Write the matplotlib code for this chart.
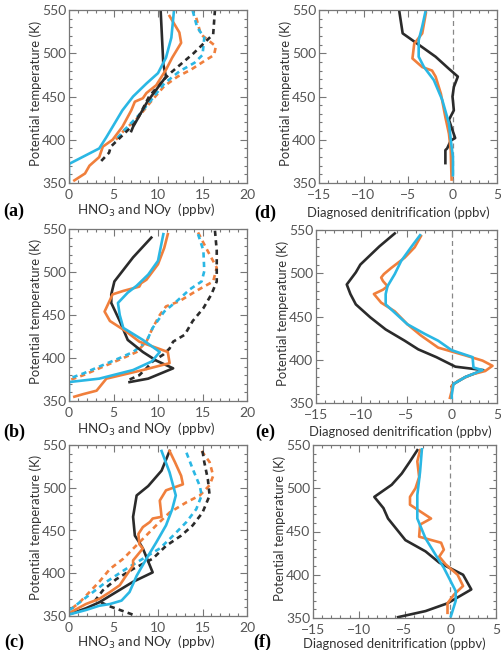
import matplotlib
matplotlib.use("Agg")
import matplotlib.pyplot as plt
from matplotlib.ticker import MultipleLocator

plt.rcParams['font.family'] = ['Lato', 'DejaVu Sans']

BLACK = '#2b2b2b'
ORANGE = '#f07f3c'
CYAN = '#2ab7e4'

# ---- panel (a): HNO3 (solid) and NOy (dashed) ----
a_blk_x = [10.3, 10.6, 10.9, 8.8, 7.2, 7.0]
a_blk_y = [549, 487, 473, 444, 415, 410]
a_org_x = [11.3, 12.4, 12.6, 11.6, 10.9, 9.8, 8.7, 8.3, 7.4, 7.0, 6.0, 4.9, 3.8, 3.4, 2.3, 1.8, 1.2, 0.6]
a_org_y = [543, 524, 512, 495, 481, 463, 454, 448, 444, 434, 415, 400, 392, 380, 370, 361, 357, 353]
a_cyn_x = [11.8, 11.5, 10.9, 10.0, 8.7, 7.2, 6.0, 4.9, 4.2, 3.4, 0.0, 0.0]
a_cyn_y = [550, 518, 495, 477, 465, 450, 434, 415, 403, 390, 372, 350]
a_blkd_x = [16.4, 16.2, 14.0, 11.5, 10.5, 9.0, 8.0, 7.3, 6.0, 4.7, 4.5, 3.3]
a_blkd_y = [550, 522, 500, 478, 468, 450, 430, 418, 405, 392, 385, 372]
a_orgd_x = [14.3, 14.8, 16.5, 16.3, 15.2, 13.7, 12.2, 10.7, 9.2, 7.7, 6.2, 5.1]
a_orgd_y = [541, 522, 508, 498, 491, 481, 473, 462, 444, 425, 411, 398]
a_cynd_x = [13.9, 14.4, 15.2, 15.0, 14.1, 12.4, 10.7, 9.4, 7.9, 6.2, 5.1]
a_cynd_y = [549, 530, 518, 498, 489, 479, 465, 448, 429, 411, 398]

# ---- panel (b) ----
b_blk_x = [9.25, 7.2, 5.1, 4.75, 4.75, 5.7, 6.6, 8.3, 9.8, 11.7, 8.9, 6.8]
b_blk_y = [540, 517, 489, 474, 464, 443, 421, 407, 397, 388, 376, 372]
b_org_x = [11.1, 10.7, 10.0, 8.7, 8.1, 7.9, 6.1, 4.9, 4.0, 4.6, 6.4, 7.9, 11.1, 11.3, 8.3, 4.2, 3.1, 1.6, 0.6]
b_org_y = [544, 528, 509, 491, 487, 483, 478, 474, 454, 443, 431, 419, 407, 394, 386, 376, 362, 358, 355]
b_cyn_x = [10.6, 10.0, 8.9, 7.6, 6.6, 5.5, 5.7, 6.1, 8.3, 10.2, 9.3, 7.2, 3.4, 0.0, 0.0]
b_cyn_y = [544, 513, 497, 484, 476, 464, 450, 435, 421, 407, 396, 386, 376, 372, 350]
b_blkd_x = [16.4, 16.6, 16.6, 16.0, 15.1, 13.9, 13.0, 11.7, 11.3, 10.6, 9.4, 8.7, 7.9, 6.6]
b_blkd_y = [548, 525, 489, 474, 458, 443, 427, 419, 411, 404, 396, 388, 380, 374]
b_orgd_x = [14.5, 15.4, 16.6, 16.2, 14.3, 12.4, 10.9, 10.2, 9.4, 8.7, 7.6, 6.1, 3.4, 1.6, 0.0]
b_orgd_y = [546, 528, 505, 489, 478, 466, 460, 450, 435, 419, 407, 400, 388, 380, 374]
b_cynd_x = [14.5, 15.1, 15.2, 14.9, 13.6, 12.1, 10.7, 9.4, 8.7, 7.2, 5.7, 3.4, 1.6, 0.0]
b_cynd_y = [544, 525, 501, 489, 480, 466, 454, 435, 419, 407, 400, 390, 382, 376]

# ---- panel (c) ----
c_blk_x = [11.3, 10.4, 8.9, 7.6, 7.2, 7.4, 7.9, 8.3, 9.4, 7.2, 5.3, 3.4, 1.9, 0.3]
c_blk_y = [543, 520, 502, 491, 466, 444, 436, 429, 401, 390, 378, 366, 359, 353]
c_org_x = [11.3, 11.9, 12.6, 12.8, 10.9, 10.2, 10.4, 9.4, 9.1, 8.3, 7.8, 7.9, 8.3, 7.2, 7.2, 6.4, 5.7, 4.6, 3.4, 1.9, 0.3]
c_org_y = [543, 530, 514, 504, 497, 485, 466, 464, 460, 454, 446, 434, 429, 415, 409, 397, 386, 378, 370, 364, 355]
c_cyn_x = [10.4, 11.3, 12.0, 11.6, 10.9, 9.8, 8.7, 7.6, 6.8, 5.9, 4.6, 3.4, 1.9, 0.1]
c_cyn_y = [543, 518, 491, 475, 456, 436, 417, 397, 378, 368, 364, 362, 357, 352]
c_blkd_x = [15.0, 15.2, 15.6, 15.8, 15.0, 13.9, 12.6, 10.9, 9.4, 7.2, 5.3, 3.8, 3.0, 4.4, 7.6]
c_blkd_y = [543, 530, 510, 491, 471, 456, 444, 432, 417, 405, 393, 380, 369, 362, 350]
c_orgd_x = [14.9, 15.8, 16.2, 15.8, 14.7, 13.2, 11.3, 9.8, 7.9, 6.1, 4.6, 3.4, 2.3, 1.2, 0.1]
c_orgd_y = [543, 530, 514, 503, 491, 483, 471, 456, 436, 417, 405, 390, 378, 366, 357]
c_cynd_x = [13.2, 13.9, 14.7, 14.9, 14.3, 13.2, 11.7, 10.2, 8.3, 6.4, 4.2, 2.7, 1.2, 0.1]
c_cynd_y = [541, 522, 502, 491, 475, 460, 444, 429, 417, 405, 390, 378, 366, 357]

# ---- panel (d): diagnosed denitrification ----
d_blk_x = [-6.0, -5.6, -3.4, -1.9, -0.4, 0.6, 0.15, 0.0, 0.15, -0.4, 0.0, 0.3, -0.2, -0.6, -0.8, -0.8]
d_blk_y = [550, 523, 507, 496, 482, 473, 461, 450, 434, 423, 411, 402, 399, 390, 388, 373]
d_org_x = [-3.0, -3.4, -4.3, -4.5, -3.4, -2.3, -1.9, -1.3, -0.8, -0.4, -0.2, -0.15, -0.1]
d_org_y = [546, 523, 511, 494, 484, 480, 473, 453, 426, 407, 388, 369, 354]
d_cyn_x = [-3.0, -3.4, -3.8, -3.8, -3.2, -2.1, -1.15, -0.4, -0.15, 0.05, 0.05]
d_cyn_y = [550, 531, 515, 496, 484, 469, 446, 419, 396, 380, 359]

# ---- panel (e) ----
e_blk_x = [-6.3, -8.0, -9.1, -10.1, -10.6, -11.6, -11.2, -10.6, -9.0, -7.3, -5.2, -3.7, -1.7, 0.4, 3.5, 1.5, 0.2, 0.0]
e_blk_y = [546, 531, 520, 510, 501, 487, 476, 464, 449, 435, 422, 412, 403, 392, 388, 380, 372, 369]
e_org_x = [-3.4, -4.1, -5.2, -6.7, -7.5, -7.8, -7.6, -7.1, -7.6, -8.6, -7.8, -6.3, -4.9, -3.4, -1.5, 1.5, 3.4, 4.5, 3.7, 2.2, 0.75, 0.0, 0.0, -0.2]
e_org_y = [543, 530, 518, 506, 499, 495, 491, 485, 481, 476, 466, 456, 441, 428, 414, 405, 399, 393, 387, 383, 376, 370, 364, 356]
e_cyn_x = [-3.5, -4.5, -5.6, -6.3, -7.1, -7.3, -7.3, -4.9, -3.0, -1.5, 0.0, 2.3, 2.4, 3.4, 1.5, 0.2, 0.0, 0.0]
e_cyn_y = [544, 530, 514, 499, 485, 476, 464, 441, 430, 422, 411, 403, 391, 388, 380, 372, 360, 356]

# ---- panel (f) ----
f_blk_x = [-3.6, -4.4, -5.3, -6.4, -8.3, -7.3, -6.8, -4.9, -2.7, -1.2, 1.4, 2.3, -0.3, -2.7, -5.7]
f_blk_y = [544, 531, 517, 504, 490, 477, 465, 440, 427, 414, 400, 383, 367, 358, 351]
f_org_x = [-3.3, -3.6, -3.4, -3.8, -4.4, -4.4, -2.1, -3.3, -3.4, -1.0, -0.7, -1.2, -0.5, 0.8, 1.4, 0.4, -0.3, -0.3]
f_org_y = [544, 531, 513, 500, 490, 481, 465, 458, 444, 437, 429, 421, 412, 400, 387, 377, 367, 356]
f_cyn_x = [-3.1, -3.3, -3.6, -3.6, -2.7, -1.6, -0.7, 0.07, 0.6, 0.6, 0.07]
f_cyn_y = [545, 519, 492, 465, 442, 423, 408, 392, 381, 370, 352]

left_panels = [
    ((a_blk_x, a_blk_y), (a_org_x, a_org_y), (a_cyn_x, a_cyn_y),
     (a_blkd_x, a_blkd_y), (a_orgd_x, a_orgd_y), (a_cynd_x, a_cynd_y)),
    ((b_blk_x, b_blk_y), (b_org_x, b_org_y), (b_cyn_x, b_cyn_y),
     (b_blkd_x, b_blkd_y), (b_orgd_x, b_orgd_y), (b_cynd_x, b_cynd_y)),
    ((c_blk_x, c_blk_y), (c_org_x, c_org_y), (c_cyn_x, c_cyn_y),
     (c_blkd_x, c_blkd_y), (c_orgd_x, c_orgd_y), (c_cynd_x, c_cynd_y)),
]
right_panels = [
    ((d_blk_x, d_blk_y), (d_org_x, d_org_y), (d_cyn_x, d_cyn_y)),
    ((e_blk_x, e_blk_y), (e_org_x, e_org_y), (e_cyn_x, e_cyn_y)),
    ((f_blk_x, f_blk_y), (f_org_x, f_org_y), (f_cyn_x, f_cyn_y)),
]

W, H = 501, 650
left_boxes = [(69, 10, 247, 183), (69, 229, 247, 401), (69, 445, 247, 616)]
right_boxes = [(319, 10, 497, 183), (316, 230, 497, 403), (313, 445, 496, 618)]
letters_left = ['(a)', '(b)', '(c)']
letters_right = ['(d)', '(e)', '(f)']
letter_y_left = [211, 432, 642]
letter_y_right = [213, 432, 642]
letter_x_right = [265, 265, 262]
xlab_y_left = [210, 429, 642]
xlab_y_right = [213, 432, 644]
xlab_x_left = 146
xlab_x_right = [398, 400, 394]


def box(l, t, r, b):
    return [l / W, 1 - b / H, (r - l) / W, (b - t) / H]


def style(ax):
    for s in ax.spines.values():
        s.set_color('#777777')
        s.set_linewidth(0.9)
    ax.tick_params(which='both', direction='in', top=True, right=True,
                   colors='#777777', labelcolor='#555555', labelsize=10, width=0.8)
    ax.tick_params(which='major', length=5, pad=2.5)
    ax.tick_params(which='minor', length=2.5)
    ax.tick_params(axis='x', which='major', pad=4)
    ax.tick_params(axis='y', which='major', pad=2)
    ax.set_ylim(350, 550)
    ax.yaxis.set_major_locator(MultipleLocator(50))
    ax.yaxis.set_minor_locator(MultipleLocator(10))
    ax.xaxis.set_minor_locator(MultipleLocator(1))
    ax.set_ylabel('Potential temperature (K)', fontsize=9.4, color='#333333')
    ax.yaxis.set_label_coords(-0.15, 0.52)


fig = plt.figure(figsize=(5.01, 6.5), dpi=100)
lw = 1.9

for i, lines in enumerate(left_panels):
    ax = fig.add_axes(box(*left_boxes[i]))
    style(ax)
    ax.set_xlim(0, 20)
    ax.xaxis.set_major_locator(MultipleLocator(5))
    (bx, by), (ox, oy), (cx, cy), (bdx, bdy), (odx, ody), (cdx, cdy) = lines
    ax.plot(odx, ody, color=ORANGE, lw=lw, ls=(0, (2, 1.6)))
    ax.plot(cdx, cdy, color=CYAN, lw=lw, ls=(0, (2, 1.6)))
    ax.plot(bdx, bdy, color=BLACK, lw=lw, ls=(0, (2, 1.6)))
    ax.plot(bx, by, color=BLACK, lw=lw)
    ax.plot(ox, oy, color=ORANGE, lw=lw)
    ax.plot(cx, cy, color=CYAN, lw=lw)
    fig.text(xlab_x_left / W, 1 - xlab_y_left[i] / H, 'HNO$_3$ and NOy  (ppbv)',
             fontsize=9.6, color='#333333', ha='center', va='center')
    fig.text(14 / W, 1 - letter_y_left[i] / H, letters_left[i], fontsize=13, fontweight='bold',
             family='Liberation Serif', va='center', ha='center')

for i, lines in enumerate(right_panels):
    ax = fig.add_axes(box(*right_boxes[i]))
    style(ax)
    ax.set_xlim(-15, 5)
    ax.xaxis.set_major_locator(MultipleLocator(5))
    ax.axvline(0, color='#888888', lw=0.9, ls=(0, (4, 3)))
    (bx, by), (ox, oy), (cx, cy) = lines
    ax.plot(bx, by, color=BLACK, lw=lw)
    ax.plot(ox, oy, color=ORANGE, lw=lw)
    ax.plot(cx, cy, color=CYAN, lw=lw)
    fig.text(xlab_x_right[i] / W, 1 - xlab_y_right[i] / H, 'Diagnosed denitrification (ppbv)',
             fontsize=9.4, color='#333333', ha='center', va='center')
    fig.text(letter_x_right[i] / W, 1 - letter_y_right[i] / H, letters_right[i], fontsize=13,
             fontweight='bold', family='Liberation Serif', va='center', ha='center')

fig.savefig('out.png', dpi=100)
